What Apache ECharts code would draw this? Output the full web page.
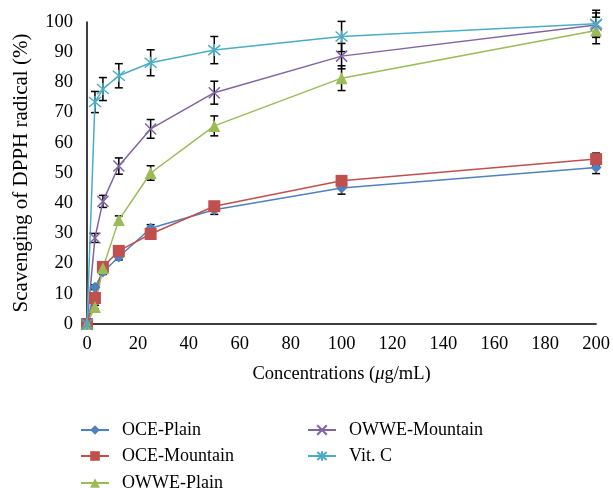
<!DOCTYPE html>
<html>
<head>
<meta charset="utf-8">
<script src="https://cdn.jsdelivr.net/npm/echarts@6/dist/echarts.min.js"></script>
<style>
  html, body { margin: 0; padding: 0; background: #fff; }
  #main { width: 613px; height: 488px; }
</style>
</head>
<body>
<div id="main"></div>
<script>
// concentrations (ug/mL)
var conc = [0, 3.125, 6.25, 12.5, 25, 50, 100, 200];

// scavenging (%) per sample
var ocePlain      = [0, 12.2, 17.2, 22.2, 31.7, 37.8, 45.0, 51.8];
var oceMountain   = [0, 8.6, 18.9, 24.2, 29.8, 39.0, 47.4, 54.6];
var owwePlain     = [0, 5.6, 18.5, 34.4, 50.0, 65.6, 81.4, 97.2];
var owweMountain  = [0, 28.5, 40.6, 52.3, 64.6, 76.6, 88.7, 99.0];
var vitC          = [0, 73.5, 77.8, 82.2, 86.5, 90.7, 95.2, 99.4];

// standard deviations
var ocePlainErr     = [0, 0.8, 0.8, 1.0, 1.2, 1.5, 2.0, 2.0];
var oceMountainErr  = [0, 0.8, 0.8, 1.0, 1.0, 1.3, 1.6, 2.0];
var owwePlainErr    = [0, 0.6, 0.8, 1.4, 2.4, 3.3, 4.1, 4.4];
var owweMountainErr = [0, 1.5, 2.0, 2.7, 3.1, 3.8, 4.2, 4.0];
var vitCErr         = [0, 3.5, 3.8, 4.0, 4.3, 4.5, 5.0, 4.5];

var names = ['OCE-Plain', 'OCE-Mountain', 'OWWE-Plain', 'OWWE-Mountain', 'Vit. C'];
var colors = ['#4F81BD', '#C0504D', '#9BBB59', '#8064A2', '#4BACC6'];
var values = [ocePlain, oceMountain, owwePlain, owweMountain, vitC];
var errors = [ocePlainErr, oceMountainErr, owwePlainErr, owweMountainErr, vitCErr];
var symbols = [
	'diamond',
	'rect',
	'triangle',
	'path://M0,0L10,10M10,0L0,10',
	'path://M0,0L10,10M10,0L0,10M5,-1L5,11'
];
var sizes = [11, 12, 12, 11, 12];

var font = '"Liberation Serif", "DejaVu Serif", serif';

var myChart = echarts.init(document.getElementById('main'));

var series = [];
names.forEach(function(name, i) {
	series.push({
		name: name,
		type: 'line',
		data: conc.map(function(c, k) { return [c, values[i][k]]; }),
		symbol: symbols[i],
		symbolSize: sizes[i],
		showSymbol: true,
		clip: false,
		z: 3,
		lineStyle: { color: colors[i], width: 1.5 },
		itemStyle: {
			color: colors[i],
			borderColor: colors[i],
			borderWidth: i >= 3 ? 1.5 : 0
		}
	});
});

// error bars
names.forEach(function(name, i) {
	var errData = [];
	conc.forEach(function(c, k) {
		if (errors[i][k] > 0) {
			errData.push([c, values[i][k] - errors[i][k], values[i][k] + errors[i][k]]);
		}
	});
	series.push({
		type: 'custom',
		name: name + ' err',
		data: errData,
		z: 2,
		clip: false,
		silent: true,
		renderItem: function(params, api) {
			var lo = api.coord([api.value(0), api.value(1)]);
			var hi = api.coord([api.value(0), api.value(2)]);
			var w = 4;
			var st = { stroke: '#000', lineWidth: 1.5 };
			return {
				type: 'group',
				children: [
					{ type: 'line', shape: { x1: lo[0], y1: lo[1], x2: hi[0], y2: hi[1] }, style: st },
					{ type: 'line', shape: { x1: lo[0] - w, y1: lo[1], x2: lo[0] + w, y2: lo[1] }, style: st },
					{ type: 'line', shape: { x1: hi[0] - w, y1: hi[1], x2: hi[0] + w, y2: hi[1] }, style: st }
				]
			};
		},
		encode: { x: 0, y: [1, 2] }
	});
});

// one legend per entry, laid out in two columns like the original
var legendPos = [[75, 416], [75, 442], [75, 469], [302, 416], [302, 442]];
var legends = names.map(function(name, i) {
	return {
		left: legendPos[i][0],
		top: legendPos[i][1],
		data: [name],
		itemWidth: 28,
		itemHeight: 12,
		textStyle: { fontFamily: font, fontSize: 18, color: '#000', padding: [0, 0, 0, 8] }
	};
});

var option = {
	animation: false,
	backgroundColor: '#fff',
	grid: { left: 87, right: 16, top: 22, bottom: 164 },
	legend: legends,
	xAxis: {
		type: 'value',
		min: 0,
		max: 200,
		interval: 20,
		name: 'Concentrations ({i|\u03bc}g/mL)',
		nameLocation: 'middle',
		nameGap: 41,
		nameTextStyle: {
			fontFamily: font, fontSize: 18.5, color: '#000',
			rich: { i: { fontFamily: font, fontSize: 18.5, fontStyle: 'italic', color: '#000' } }
		},
		axisLine: { lineStyle: { color: '#000', width: 1.5 } },
		axisTick: { show: false },
		splitLine: { show: false },
		axisLabel: { fontFamily: font, fontSize: 18.5, color: '#000', margin: 11 }
	},
	yAxis: {
		type: 'value',
		min: 0,
		max: 100,
		interval: 10,
		name: 'Scavenging of DPPH radical (%)',
		nameLocation: 'middle',
		nameGap: 55,
		nameTextStyle: { fontFamily: font, fontSize: 21, color: '#000' },
		axisLine: { show: true, lineStyle: { color: '#000', width: 1.5 } },
		axisTick: { show: false },
		splitLine: { show: false },
		axisLabel: { fontFamily: font, fontSize: 18.5, color: '#000', margin: 14 }
	},
	series: series
};

myChart.setOption(option);
</script>
</body>
</html>
